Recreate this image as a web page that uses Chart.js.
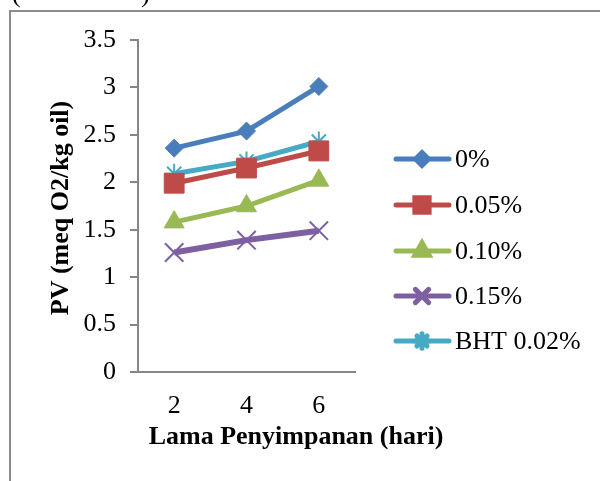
<!DOCTYPE html>
<html>
<head>
<meta charset="utf-8">
<script src="https://cdn.jsdelivr.net/npm/chart.js@4.4.0/dist/chart.umd.min.js"></script>
<style>
  html, body { margin: 0; padding: 0; background: #fff; overflow: hidden; }
  #frame { position: absolute; left: 9px; top: 10px; width: 700px; height: 600px; border: 2px solid #8c8c8c; }
  #wrap { position: absolute; left: 0; top: 0; width: 600px; height: 481px; }
</style>
</head>
<body>
<div id="frame"></div>
<div id="wrap"><canvas id="pvChart" width="600" height="481"></canvas></div>
<script>
var days = ["2", "4", "6"];
var pv0 = [2.36, 2.54, 3.01];
var pv005 = [1.99, 2.15, 2.33];
var pv010 = [1.58, 1.75, 2.02];
var pv015 = [1.26, 1.39, 1.49];
var pvBHT = [2.09, 2.22, 2.43];
var yTicks = [0, 0.5, 1, 1.5, 2, 2.5, 3, 3.5];

var serif = "'Liberation Serif', 'Times New Roman', serif";

function series(label, data, color, style, radius, bw, lw) {
  return {
    label: label,
    data: data,
    borderColor: color,
    backgroundColor: color,
    borderWidth: lw || 5,
    pointStyle: style,
    pointRadius: radius,
    pointHoverRadius: radius,
    pointBorderWidth: bw,
    pointBackgroundColor: color,
    pointBorderColor: color,
    tension: 0
  };
}

// axis titles, legend and the cut-off caption at the top
const extras = {
  id: 'extras',
  afterDraw: (chart) => {
    const {ctx, chartArea} = chart;
    ctx.save();
    ctx.fillStyle = '#000';
    ctx.font = "26px " + serif;
    ctx.textBaseline = 'alphabetic';
    ctx.textAlign = 'left';
    ctx.fillText('(', 12, 2);
    ctx.fillText(')', 141, 2);

    ctx.font = "bold 26px " + serif;
    ctx.textAlign = 'center';
    ctx.textBaseline = 'middle';
    ctx.fillText('Lama Penyimpanan (hari)', 296, 437);
    ctx.save();
    ctx.translate(61, (chartArea.top + chartArea.bottom) / 2 + 2);
    ctx.rotate(-Math.PI / 2);
    ctx.fillText('PV (meq O2/kg oil)', 0, 0);
    ctx.restore();

    var rows = [159, 205, 251, 296, 341];
    chart.data.datasets.forEach((ds, i) => {
      var y = rows[i];
      ctx.strokeStyle = ds.borderColor;
      ctx.lineWidth = 5;
      ctx.lineCap = 'round';
      ctx.beginPath();
      ctx.moveTo(396, y);
      ctx.lineTo(449, y);
      ctx.stroke();
      ctx.fillStyle = ds.borderColor;
      Chart.helpers.drawPoint(ctx, {
        pointStyle: ds.pointStyle,
        radius: ds.pointRadius * 0.72,
        borderWidth: ds.pointBorderWidth,
        rotation: 0
      }, 422, y);
      ctx.fillStyle = '#000';
      ctx.font = "26px " + serif;
      ctx.textAlign = 'left';
      ctx.textBaseline = 'middle';
      ctx.fillText(ds.label, 455, y + 1);
    });
    ctx.restore();
  }
};

new Chart(document.getElementById("pvChart"), {
  type: "line",
  data: {
    labels: days,
    datasets: [
      series("0%", pv0, "#4a7ebb", "rectRot", 9, 1),
      series("0.05%", pv005, "#be4b48", "rect", 14, 1),
      series("0.10%", pv010, "#98b954", "triangle", 11.5, 1),
      series("0.15%", pv015, "#7d60a0", "crossRot", 13, 2, 6),
      series("BHT 0.02%", pvBHT, "#46aac5", "star", 10, 2)
    ]
  },
  options: {
    responsive: false,
    animation: false,
    layout: { padding: { left: 0, top: 40, right: 245, bottom: 0 } },
    plugins: {
      legend: { display: false },
      tooltip: { enabled: false }
    },
    scales: {
      x: {
        offset: true,
        grid: { display: false },
        border: { display: true, color: '#868686', width: 2 },
        ticks: { color: '#000', font: { family: serif, size: 26 }, padding: 11 },
        afterFit: (scale) => { scale.height = 109; }
      },
      y: {
        min: 0,
        max: 3.5,
        afterBuildTicks: (scale) => { scale.ticks = yTicks.map(v => ({value: v})); },
        grid: { drawOnChartArea: false, drawTicks: true, tickLength: 8, color: '#868686', lineWidth: 2 },
        border: { display: true, color: '#868686', width: 2 },
        ticks: {
          color: '#000',
          font: { family: serif, size: 26 },
          padding: 14,
          callback: (v) => String(v)
        },
        afterFit: (scale) => { scale.width = 138; }
      }
    }
  },
  plugins: [extras]
});
</script>
</body>
</html>
